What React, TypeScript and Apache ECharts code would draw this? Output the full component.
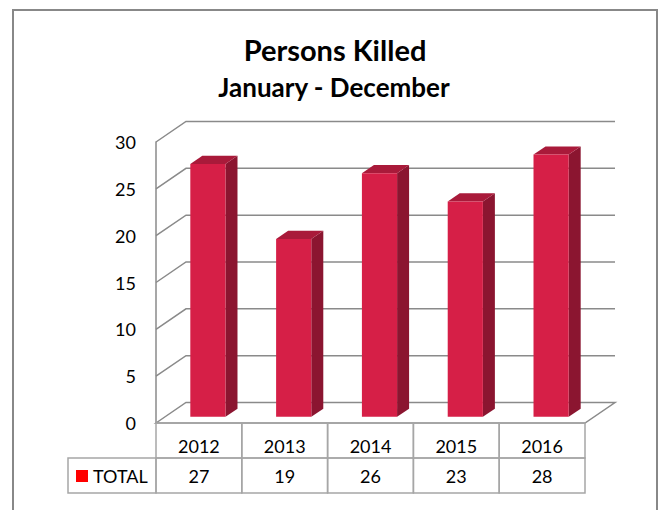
import React, { useEffect, useRef } from "react";
import * as echarts from "echarts";

const categories = ["2012", "2013", "2014", "2015", "2016"];
const totals = [27, 19, 26, 23, 28];
const yTicks = [0, 5, 10, 15, 20, 25, 30];
const seriesName = "TOTAL";
const titleText = "Persons Killed";
const subtitleText = "January - December";

const FONT = "Lato, 'Open Sans', sans-serif";
const DX = 30;
const DY = -20.5;
const GRID_COLOR = "#8a8a8a";
const TABLE_COLOR = "#a6a6a6";

export default function App() {
  const ref = useRef<HTMLDivElement>(null);
  useEffect(() => {
    document.body.style.margin = "0";
    const chart = echarts.init(ref.current!, null, { renderer: "svg" });
    const option: any = {
      animation: false,
      backgroundColor: "#ffffff",
      textStyle: { fontFamily: FONT },
      title: [
        {
          text: titleText,
          left: 330,
          textAlign: "center",
          top: 30,
          textStyle: { fontFamily: FONT, fontSize: 29, fontWeight: "bold", color: "#000" },
        },
        {
          text: subtitleText,
          left: 329,
          textAlign: "center",
          top: 69,
          textStyle: { fontFamily: FONT, fontSize: 26, fontWeight: "bold", color: "#000" },
        },
      ],
      legend: {
        data: [seriesName],
        left: 76,
        top: 467,
        padding: 0,
        itemWidth: 12,
        itemHeight: 12,
        icon: "rect",
        selectedMode: false,
        textStyle: { fontFamily: FONT, fontSize: 18, color: "#000" },
      },
      graphic: [
        {
          type: "rect",
          shape: { x: 13, y: 10, width: 644, height: 520 },
          style: { fill: "none", stroke: "#888888", lineWidth: 2 },
          silent: true,
        },
      ],
      grid: { left: 156, right: 75, top: 142, bottom: 87 },
      xAxis: {
        type: "category",
        data: categories,
        axisLine: { show: false },
        axisTick: { show: false },
        axisLabel: { fontFamily: FONT, fontSize: 18, color: "#000", margin: 14 },
        splitLine: { show: false },
      },
      yAxis: {
        type: "value",
        min: 0,
        max: 30,
        interval: 5,
        axisLine: { show: true, lineStyle: { color: GRID_COLOR, width: 1.5 } },
        axisTick: { show: false },
        axisLabel: { fontFamily: FONT, fontSize: 18, color: "#000", margin: 20 },
        splitLine: { show: false },
      },
      series: [
        {
          type: "custom",
          name: "grid3d",
          silent: true,
          z: 1,
          data: yTicks.map((v) => [0, v]),
          renderItem: (params: any, api: any) => {
            const cs = params.coordSys;
            const L = cs.x;
            const R = cs.x + cs.width;
            const v = api.value(1);
            const y = api.coord([0, v])[1];
            const style = { fill: "none", stroke: GRID_COLOR, lineWidth: 1.5 };
            if (v === 0) {
              return {
                type: "polygon",
                shape: { points: [[L, y], [L + DX, y + DY], [R + DX, y + DY], [R, y]] },
                style,
              };
            }
            return {
              type: "polyline",
              shape: { points: [[L, y], [L + DX, y + DY], [R + DX, y + DY]] },
              style,
            };
          },
        },
        {
          type: "custom",
          name: seriesName,
          z: 3,
          itemStyle: { color: "#ff0000" },
          data: totals.map((v, i) => [i, v]),
          renderItem: (params: any, api: any) => {
            const i = api.value(0);
            const top = api.coord([i, api.value(1)]);
            const base = api.coord([i, 0]);
            const bandW = api.size([1, 0])[0];
            const w = bandW * 0.41;
            const ox = DX * 0.3;
            const oy = DY * 0.3;
            const dx = DX * 0.4;
            const dy = DY * 0.4;
            const x0 = top[0] - w / 2 + ox;
            const x1 = x0 + w;
            const yT = top[1] + oy;
            const yB = base[1] + oy;
            return {
              type: "group",
              children: [
                {
                  type: "polygon",
                  shape: { points: [[x1, yT], [x1 + dx, yT + dy], [x1 + dx, yB + dy], [x1, yB]] },
                  style: { fill: "#8b1530" },
                },
                {
                  type: "polygon",
                  shape: { points: [[x0, yT], [x0 + dx, yT + dy], [x1 + dx, yT + dy], [x1, yT]] },
                  style: { fill: "#a91a3a" },
                },
                {
                  type: "rect",
                  shape: { x: x0, y: yT, width: w, height: yB - yT },
                  style: { fill: "#d61f47" },
                },
              ],
            };
          },
        },
        {
          type: "custom",
          name: "table",
          silent: true,
          z: 4,
          data: totals.map((v, i) => [i, v]),
          renderItem: (params: any, api: any) => {
            const i = api.value(0);
            const p = api.coord([i, 0]);
            const bandW = api.size([1, 0])[0];
            const left = p[0] - bandW / 2;
            const top = p[1];
            const rowH = 35;
            const cellStyle = { fill: "none", stroke: TABLE_COLOR, lineWidth: 1.5 };
            const children: any[] = [
              { type: "rect", shape: { x: left, y: top, width: bandW, height: rowH }, style: cellStyle },
              { type: "rect", shape: { x: left, y: top + rowH, width: bandW, height: rowH }, style: cellStyle },
              {
                type: "text",
                style: {
                  text: String(api.value(1)),
                  x: p[0],
                  y: top + rowH * 1.5,
                  align: "center",
                  verticalAlign: "middle",
                  fontFamily: FONT,
                  fontSize: 18,
                  fill: "#000",
                },
              },
            ];
            if (i === 0) {
              children.push({
                type: "rect",
                shape: { x: left - 88, y: top + rowH, width: 88, height: rowH },
                style: cellStyle,
              });
            }
            return { type: "group", children };
          },
        },
      ],
    };
    chart.setOption(option);
    return () => chart.dispose();
  }, []);
  return <div ref={ref} style={{ width: 660, height: 510 }} />;
}
